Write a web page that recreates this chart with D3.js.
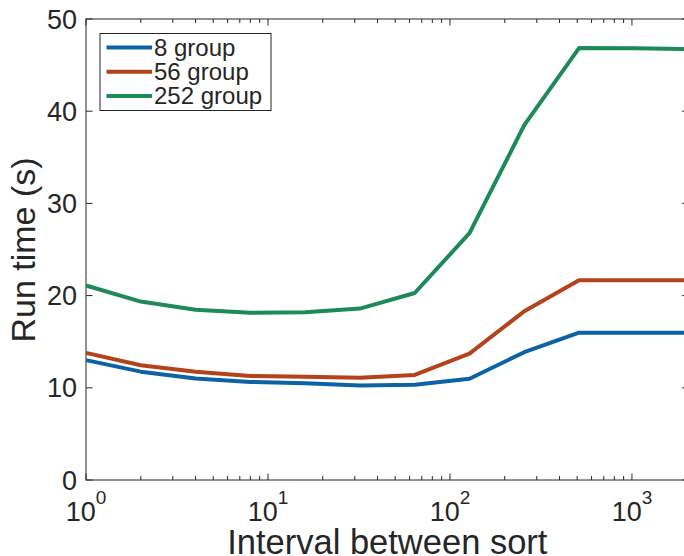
<!DOCTYPE html>
<html>
<head>
<meta charset="utf-8">
<script src="https://cdn.jsdelivr.net/npm/d3@7"></script>
<style>
  body { margin: 0; background: #fff; }
  svg text { font-family: "Liberation Sans", Arial, sans-serif; fill: #262626; }
</style>
</head>
<body>
<svg id="chart" width="684" height="556"></svg>
<script>
// Run time vs sort interval, three group sizes (log x axis).
const intervals = [1, 2, 4, 8, 16, 32, 64, 128, 256, 512, 1024, 2048];
const group8 = [13.0, 11.75, 11.0, 10.64, 10.48, 10.25, 10.33, 10.98, 13.86, 15.98, 15.98, 15.98];
const group56 = [13.79, 12.44, 11.75, 11.29, 11.2, 11.1, 11.4, 13.7, 18.3, 21.66, 21.66, 21.66];
const group252 = [21.1, 19.35, 18.47, 18.13, 18.2, 18.59, 20.28, 26.77, 38.48, 46.85, 46.82, 46.75];
const seriesNames = ['8 group', '56 group', '252 group'];
const seriesColors = ['#0b62a4', '#b4421b', '#1e8a58'];
const yTicks = [0, 10, 20, 30, 40, 50];
const xTicks = [1, 10, 100, 1000];

const series = [group8, group56, group252];

const svg = d3.select('#chart');
const mLeft = 86, mRight = 688.6, mTop = 19, mBottom = 480;

const x = d3.scaleLog().domain([1, 2048]).range([mLeft, mRight]);
const y = d3.scaleLinear().domain([0, 50]).range([mBottom, mTop]);

// axes box
const axisColor = '#262626';
svg.append('rect')
  .attr('x', mLeft).attr('y', mTop)
  .attr('width', mRight - mLeft).attr('height', mBottom - mTop)
  .attr('fill', 'none').attr('stroke', axisColor).attr('stroke-width', 1);

// minor x ticks (log)
const minor = [];
for (let d = 1; d <= 1000; d *= 10) {
  for (let m = 2; m <= 9; m++) if (d * m <= 2048) minor.push(d * m);
}
const tickG = svg.append('g').attr('stroke', axisColor).attr('stroke-width', 1);
minor.forEach(v => {
  const px = x(v);
  tickG.append('line').attr('x1', px).attr('x2', px).attr('y1', mBottom).attr('y2', mBottom - 4);
  tickG.append('line').attr('x1', px).attr('x2', px).attr('y1', mTop).attr('y2', mTop + 4);
});
xTicks.forEach(v => {
  const px = x(v);
  tickG.append('line').attr('x1', px).attr('x2', px).attr('y1', mBottom).attr('y2', mBottom - 6.5);
  tickG.append('line').attr('x1', px).attr('x2', px).attr('y1', mTop).attr('y2', mTop + 6.5);
});
yTicks.forEach(v => {
  const py = y(v);
  tickG.append('line').attr('x1', mLeft).attr('x2', mLeft + 6.5).attr('y1', py).attr('y2', py);
  tickG.append('line').attr('x1', mRight).attr('x2', mRight - 6.5).attr('y1', py).attr('y2', py);
});

// y tick labels
yTicks.forEach(v => {
  svg.append('text')
    .attr('x', mLeft - 9).attr('y', y(v) + 9.5)
    .attr('text-anchor', 'end')
    .attr('font-size', 27)
    .text(v);
});

// x tick labels: 10^n
xTicks.forEach(v => {
  const t = svg.append('text')
    .attr('x', x(v)).attr('y', 521)
    .attr('text-anchor', 'middle')
    .attr('font-size', 27);
  t.append('tspan').text('10');
  t.append('tspan').attr('font-size', 19).attr('dy', -17).text(Math.round(Math.log10(v)));
});

// axis labels
svg.append('text')
  .attr('x', (mLeft + mRight) / 2).attr('y', 554)
  .attr('text-anchor', 'middle')
  .attr('font-size', 34.5)
  .text('Interval between sort');

svg.append('text')
  .attr('transform', `translate(35, 250) rotate(-90)`)
  .attr('text-anchor', 'middle')
  .attr('font-size', 34)
  .text('Run time (s)');

// lines
const line = d3.line()
  .x((d, i) => x(intervals[i]))
  .y(d => y(d));

series.forEach((s, i) => {
  svg.append('path')
    .datum(s)
    .attr('d', line)
    .attr('fill', 'none')
    .attr('stroke', seriesColors[i])
    .attr('stroke-width', 4)
    .attr('stroke-linejoin', 'round');
});

// legend
const lg = svg.append('g');
lg.append('rect')
  .attr('x', 100).attr('y', 33.5)
  .attr('width', 171).attr('height', 77)
  .attr('fill', '#fff').attr('stroke', axisColor).attr('stroke-width', 1);
seriesNames.forEach((name, i) => {
  const ly = 47.5 + i * 24.2;
  lg.append('line')
    .attr('x1', 106.5).attr('x2', 152).attr('y1', ly).attr('y2', ly)
    .attr('stroke', seriesColors[i]).attr('stroke-width', 4);
  lg.append('text')
    .attr('x', 154).attr('y', ly + 8.5)
    .attr('font-size', 24)
    .attr('fill', '#000')
    .text(name);
});
</script>
</body>
</html>
